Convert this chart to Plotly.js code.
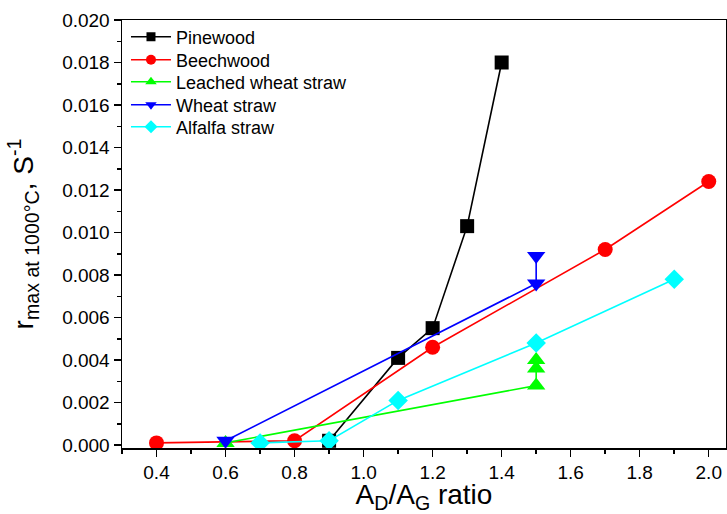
<!DOCTYPE html>
<html>
<head>
<meta charset="utf-8">
<script src="https://cdn.plot.ly/plotly-3.0.1.min.js"></script>
<style>
  html, body { margin: 0; padding: 0; background: #fff; }
  #chart { width: 727px; height: 514px; }
</style>
</head>
<body>
<div id="chart"></div>
<script>
// Maximum reaction rate at 1000 °C versus the AD/AG Raman band ratio
const seriesNames = ["Pinewood", "Beechwood", "Leached wheat straw", "Wheat straw", "Alfalfa straw"];

const pinewoodX = [0.9, 1.1, 1.2, 1.3, 1.4];
const pinewoodY = [0.0002, 0.0041, 0.0055, 0.0103, 0.0180];

const beechwoodX = [0.4, 0.8, 1.2, 1.7, 2.0];
const beechwoodY = [0.0001, 0.0002, 0.0046, 0.0092, 0.0124];

const leachedX = [0.6, 1.5, 1.5, 1.5];
const leachedY = [0.0001, 0.0028, 0.0036, 0.0040];

const wheatX = [0.6, 1.5, 1.5];
const wheatY = [0.0002, 0.0076, 0.0089];

const alfalfaX = [0.7, 0.9, 1.1, 1.5, 1.9];
const alfalfaY = [0.0001, 0.0002, 0.0021, 0.0048, 0.0078];

const yTickVals = [0, 0.002, 0.004, 0.006, 0.008, 0.010, 0.012, 0.014, 0.016, 0.018, 0.020];
const xTickVals = [0.4, 0.6, 0.8, 1.0, 1.2, 1.4, 1.6, 1.8, 2.0];

const styles = [
  { color: "#000000", symbol: "square",        size: 14, legendSize: 9 },
  { color: "#ff0000", symbol: "circle",        size: 15, legendSize: 10 },
  { color: "#00ff00", symbol: "triangle-up",   size: 16, legendSize: 10 },
  { color: "#0000ff", symbol: "triangle-down", size: 16, legendSize: 10 },
  { color: "#00ffff", symbol: "diamond",       size: 15, legendSize: 10 }
];

const xs = [pinewoodX, beechwoodX, leachedX, wheatX, alfalfaX];
const ys = [pinewoodY, beechwoodY, leachedY, wheatY, alfalfaY];

const font = "Liberation Sans, Arial, sans-serif";
const legendIds = ["legend", "legend2", "legend3", "legend4", "legend5"];
// vertical centre of each legend row, in paper units
const legendRowY = [0.9603, 0.9065, 0.8551, 0.8014, 0.7500];

const traces = [];
// data traces
for (let i = 0; i < xs.length; i++) {
  traces.push({
    type: "scatter", mode: "lines+markers",
    x: xs[i], y: ys[i], name: seriesNames[i], showlegend: false,
    line: { color: styles[i].color, width: 1.6 },
    marker: { color: styles[i].color, symbol: styles[i].symbol, size: styles[i].size }
  });
}
// legend entries with smaller symbols, one legend box per row
for (let i = 0; i < xs.length; i++) {
  traces.push({
    type: "scatter", mode: "lines+markers",
    x: [null], y: [null], name: seriesNames[i], showlegend: true,
    legend: legendIds[i],
    line: { color: styles[i].color, width: 1.6 },
    marker: { color: styles[i].color, symbol: styles[i].symbol, size: styles[i].legendSize }
  });
}

const layout = {
  width: 727, height: 514,
  margin: { l: 122, r: 1, t: 20, b: 66 },
  paper_bgcolor: "#ffffff", plot_bgcolor: "#ffffff",
  font: { family: font, color: "#000000", size: 19 },
  showlegend: true,
  xaxis: {
    range: [0.3, 2.05],
    tickvals: xTickVals, ticktext: xTickVals.map(v => v.toFixed(1)),
    ticks: "outside", ticklen: 7, tickwidth: 1.5, tickcolor: "#000",
    minor: { dtick: 0.1, tick0: 0, ticks: "outside", ticklen: 4, tickwidth: 1.5, tickcolor: "#000" },
    showline: true, linecolor: "#000", linewidth: 1.5, mirror: true,
    showgrid: false, zeroline: false,
    tickfont: { family: font, size: 19 },
    title: { text: "A<sub>D</sub>/A<sub>G</sub> ratio", font: { family: font, size: 28 }, standoff: 10 }
  },
  yaxis: {
    range: [-0.00014, 0.020],
    tickvals: yTickVals, ticktext: yTickVals.map(v => v.toFixed(3)),
    ticks: "outside", ticklen: 7, tickwidth: 1.5, tickcolor: "#000",
    minor: { dtick: 0.001, tick0: 0, ticks: "outside", ticklen: 4, tickwidth: 1.5, tickcolor: "#000" },
    showline: true, linecolor: "#000", linewidth: 1.5, mirror: true,
    showgrid: false, zeroline: false,
    tickfont: { family: font, size: 19 },
    title: { text: "r<sub>max at 1000°C</sub>, S<sup>-1</sup>", font: { family: font, size: 28 }, standoff: 20 }
  }
};

legendIds.forEach((id, i) => {
  layout[id] = {
    x: 0.0066, y: legendRowY[i], xanchor: "left", yanchor: "middle",
    bgcolor: "rgba(0,0,0,0)", borderwidth: 0,
    font: { family: font, size: 18, color: "#000" },
    itemwidth: 40
  };
});

Plotly.newPlot("chart", traces, layout, { displayModeBar: false, staticPlot: true });
</script>
</body>
</html>
